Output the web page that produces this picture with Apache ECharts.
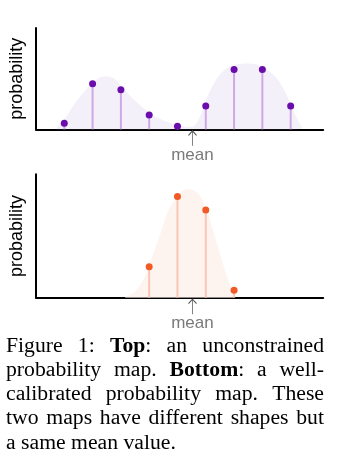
<!DOCTYPE html>
<html>
<head>
<meta charset="utf-8">
<script src="https://cdn.jsdelivr.net/npm/echarts@6/dist/echarts.min.js"></script>
<style>
html,body{margin:0;padding:0;background:#fff;}
#main{width:349px;height:470px;}
</style>
</head>
<body>
<div id="main"></div>
<script>
// ---- data ----
const topX = [1, 2, 3, 4, 5, 6, 7, 8, 9];
const topProb = [0.06, 0.45, 0.39, 0.14, 0.03, 0.23, 0.59, 0.59, 0.23];
const topCurveX = [0.71, 1.03, 1.41, 1.83, 2.18, 2.46, 2.77, 3.05, 3.75, 4.34, 5.03, 5.5, 5.75, 6.05, 6.35, 6.64, 7.06, 7.51, 8.0, 8.45, 8.75, 8.97, 9.22, 9.43];
const topCurveY = [0.01, 0.11, 0.27, 0.41, 0.50, 0.52, 0.50, 0.41, 0.22, 0.11, 0.04, 0.025, 0.10, 0.32, 0.48, 0.58, 0.64, 0.65, 0.62, 0.52, 0.40, 0.27, 0.11, 0.01];
const topMean = [5.53];

const bottomX = [4, 5, 6, 7];
const bottomProb = [0.25, 0.82, 0.71, 0.06];
const bottomCurveX = [3.15, 3.5, 3.85, 4.1, 4.37, 4.65, 4.97, 5.2, 5.42, 5.65, 5.84, 6.08, 6.25, 6.43, 6.71, 6.95, 7.06];
const bottomCurveY = [0.005, 0.05, 0.17, 0.33, 0.5, 0.69, 0.82, 0.87, 0.88, 0.86, 0.81, 0.68, 0.55, 0.41, 0.20, 0.05, 0.005];
const bottomMean = [5.53];

const yAxisName = 'probability';
const meanLabel = 'mean';
const captionLines = [
  'Figure 1: **Top**: an unconstrained',
  'probability map. **Bottom**: a well-',
  'calibrated probability map. These',
  'two maps have different shapes but',
  'a same mean value.'
];

// ---- helpers ----
const zip = (a, b) => a.map((v, i) => [v, b[i]]);
const arrowPath = 'path://M5,0 L5,15 M1,4.5 L5,0 L9,4.5';

function axisPair(gi) {
  return {
    x: {
      gridIndex: gi, type: 'value', min: 0, max: 10.15,
      axisLine: {show: true, onZero: false, lineStyle: {color: '#000', width: 2}},
      axisTick: {show: false}, axisLabel: {show: false}, splitLine: {show: false}
    },
    y: {
      gridIndex: gi, type: 'value', min: 0, max: 1,
      name: yAxisName, nameLocation: 'middle', nameGap: 10,
      nameTextStyle: {fontFamily: 'Liberation Sans, Arial, sans-serif', fontSize: 18, color: '#000'},
      axisLine: {show: true, lineStyle: {color: '#000', width: 2}},
      axisTick: {show: false}, axisLabel: {show: false}, splitLine: {show: false}
    }
  };
}

function panelSeries(gi, xs, ps, cx, cy, mean, areaColor, stemColor, dotColor) {
  return [
    {
      type: 'line', xAxisIndex: gi, yAxisIndex: gi, data: zip(cx, cy),
      smooth: 0.35, symbol: 'none', silent: true, z: 1,
      lineStyle: {width: 0}, areaStyle: {color: areaColor, opacity: 1}
    },
    {
      type: 'bar', xAxisIndex: gi, yAxisIndex: gi, data: zip(xs, ps),
      barWidth: 2, silent: true, z: 2, itemStyle: {color: stemColor}
    },
    {
      type: 'scatter', xAxisIndex: gi, yAxisIndex: gi, data: zip(xs, ps),
      symbolSize: 7, silent: true, z: 3, itemStyle: {color: dotColor, opacity: 1}
    },
    {
      type: 'scatter', xAxisIndex: gi, yAxisIndex: gi, data: mean.map(m => [m, 0]),
      symbol: arrowPath, symbolSize: [8, 15], symbolOffset: [0, 9], silent: true, z: 4,
      itemStyle: {color: 'rgba(0,0,0,0)', borderColor: '#555', borderWidth: 1, opacity: 1},
      label: {
        show: true, position: 'bottom', distance: 0, formatter: meanLabel,
        fontFamily: 'Liberation Sans Narrow, Arial Narrow, Liberation Sans, sans-serif',
        fontSize: 17, color: '#7a7a7a'
      }
    }
  ];
}

function buildCaption() {
  const fs = 20, sx = 1.085, left = 6, right = 324, y0 = 346.5, lh = 24.2;
  const fam = '"Liberation Serif", "Times New Roman", serif';
  const ctx = document.createElement('canvas').getContext('2d');
  const fontOf = b => (b ? 'bold ' : '') + fs + 'px ' + fam;
  const measure = (t, b) => { ctx.font = fontOf(b); return ctx.measureText(t).width * sx; };
  const els = [];
  captionLines.forEach((line, i) => {
    const words = line.split(' ').map(w => w.split('**').map((t, k) => ({t, b: k % 2 === 1})).filter(s => s.t.length));
    const ww = words.map(w => w.reduce((s, seg) => s + measure(seg.t, seg.b), 0));
    const total = ww.reduce((a, b) => a + b, 0);
    const last = i === captionLines.length - 1;
    const gap = last ? measure(' ', false) : (right - left - total) / (words.length - 1);
    let x = left;
    words.forEach((w, wi) => {
      w.forEach(seg => {
        els.push({
          type: 'text', x: x, y: y0 + i * lh, scaleX: sx, silent: true,
          style: {text: seg.t, font: fontOf(seg.b), fill: '#000', verticalAlign: 'middle', align: 'left'}
        });
        x += measure(seg.t, seg.b);
      });
      x += gap;
    });
  });
  return els;
}

const a0 = axisPair(0), a1 = axisPair(1);
const chart = echarts.init(document.getElementById('main'));
chart.setOption({
  animation: false,
  backgroundColor: '#fff',
  grid: [
    {left: 32.7, top: 28, width: 290.5, height: 101.3},
    {left: 32.7, top: 174.3, width: 290.5, height: 123.4}
  ],
  xAxis: [a0.x, a1.x],
  yAxis: [a0.y, a1.y],
  series: [
    ...panelSeries(0, topX, topProb, topCurveX, topCurveY, topMean, '#f4f0fa', '#cfa8e4', '#6a0dad'),
    ...panelSeries(1, bottomX, bottomProb, bottomCurveX, bottomCurveY, bottomMean, '#fef4ef', '#f9c6b4', '#f15a24')
  ],
  graphic: buildCaption()
});
</script>
</body>
</html>
